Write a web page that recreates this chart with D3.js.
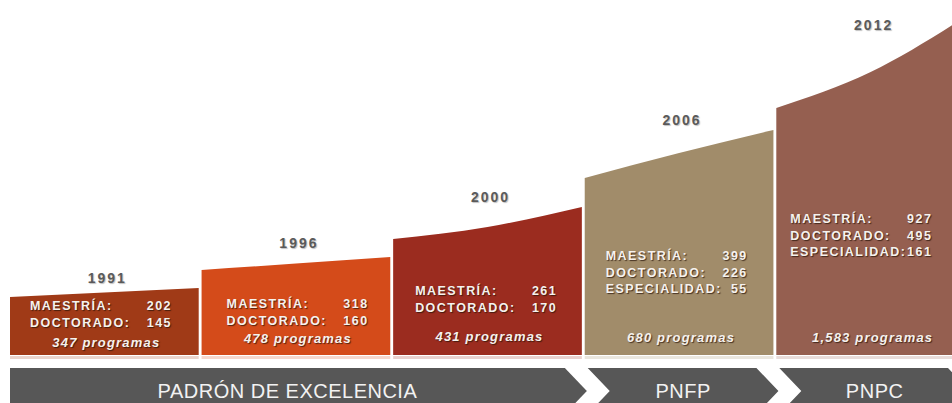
<!DOCTYPE html>
<html>
<head>
<meta charset="utf-8">
<script src="https://cdn.jsdelivr.net/npm/d3@7"></script>
<style>
  body { margin: 0; background: #fff; }
  svg { display: block; }
  .info { font-family: "Liberation Sans", Arial, sans-serif; font-weight: bold; font-size: 12.5px;
          letter-spacing: 1.45px; fill: #f6f2ee; text-shadow: 1px 1px 1px rgba(40,20,10,0.75); }
  .prog { font-style: italic; letter-spacing: 1.2px; font-size: 13px; }
  .year { font-family: "Liberation Sans", Arial, sans-serif; font-weight: bold; font-size: 14px;
          letter-spacing: 2px; fill: #5a5a5a; text-shadow: 1px 1px 1px rgba(0,0,0,0.25); }
  .phase { font-family: "Liberation Sans Narrow", "Liberation Sans", Arial, sans-serif; font-size: 20px;
           fill: #f2f2f2; letter-spacing: 0.5px; }
</style>
</head>
<body>
<svg id="chart"></svg>
<script>
// data
var years = ["1991", "1996", "2000", "2006", "2012"];
var maestria = [202, 318, 261, 399, 927];
var doctorado = [145, 160, 170, 226, 495];
var especialidad = [null, null, null, 55, 161];
var programas = [347, 478, 431, 680, 1583];
// block height (left edge, middle, right edge) on the growth scale
var heightStart = [58, 85, 116, 177, 247];
var heightMid = [62.5, 91.5, 128, 202, 283];
var heightEnd = [67, 98, 148, 225, 338];
var colors = ["#a03a17", "#d44b1a", "#9b2c1f", "#a18c6a", "#955f50"];
// programme phases, first and last block index
var phases = ["PADRÓN DE EXCELENCIA", "PNFP", "PNPC"];
var phaseFrom = [0, 3, 4];
var phaseTo = [2, 3, 4];

// layout
var width = 952, height = 403;
var baseY = 355;
var yearY = [283, 248, 202, 125, 30];       // baseline of year labels
var firstLineY = [310, 308, 295, 260, 223]; // baseline of first text line
var progY = [347, 343, 341, 342, 342];
var indent = [20, 25, 22, 21, 14];
var lineH = 16.5;

var svg = d3.select("#chart").attr("width", width).attr("height", height);

var x = d3.scaleBand()
  .domain(years)
  .range([10, 10 + 5 * 191])
  .paddingInner(0.015)
  .paddingOuter(0);

var y = d3.scaleLinear()
  .domain([0, 340])
  .range([baseY, baseY - 340]);

var area = d3.area()
  .x(function(d) { return d[0]; })
  .y0(baseY)
  .y1(function(d) { return y(d[1]); })
  .curve(d3.curveMonotoneX);

var fmt = d3.format(",");

years.forEach(function(yr, i) {
  var x0 = x(yr), bw = x.bandwidth();
  var pts = [[x0, heightStart[i]], [x0 + bw / 2, heightMid[i]], [x0 + bw, heightEnd[i]]];

  // faint reflection under block
  svg.append("rect")
    .attr("x", x0).attr("y", baseY + 1)
    .attr("width", bw).attr("height", 3)
    .attr("fill", colors[i]).attr("opacity", 0.22);

  svg.append("path")
    .attr("d", area(pts))
    .attr("fill", colors[i]);

  svg.append("text")
    .attr("class", "year")
    .attr("x", x0 + bw / 2 + 3)
    .attr("y", yearY[i])
    .attr("text-anchor", "middle")
    .text(yr);

  var rows = [["MAESTRÍA:", maestria[i]], ["DOCTORADO:", doctorado[i]]];
  if (especialidad[i] != null) rows.push(["ESPECIALIDAD:", especialidad[i]]);

  rows.forEach(function(r, j) {
    var ty = firstLineY[i] + j * lineH;
    svg.append("text").attr("class", "info")
      .attr("x", x0 + indent[i]).attr("y", ty)
      .text(r[0]);
    svg.append("text").attr("class", "info")
      .attr("x", x0 + indent[i] + 142).attr("y", ty)
      .attr("text-anchor", "end")
      .text(r[1]);
  });

  svg.append("text")
    .attr("class", "info prog")
    .attr("x", x0 + bw / 2 + 2)
    .attr("y", progY[i])
    .attr("text-anchor", "middle")
    .text(fmt(programas[i]) + " programas");
});

// phase arrows along the bottom
var barTop = 368, barBot = 414, barMid = (barTop + barBot) / 2, tip = 22;
phases.forEach(function(p, k) {
  var a = x(years[phaseFrom[k]]), b = x(years[phaseTo[k]]) + x.bandwidth();
  var left = k === 0 ? 10 : a + 3;
  var right = b - 17;
  var notch = k === 0 ? 0 : tip;
  var d = "M" + left + "," + barTop +
    "L" + right + "," + barTop +
    "L" + (right + tip) + "," + barMid +
    "L" + right + "," + barBot +
    "L" + left + "," + barBot +
    "L" + (left + notch) + "," + barMid + "Z";
  svg.append("path").attr("d", d).attr("fill", "#575757");
  svg.append("text")
    .attr("class", "phase")
    .attr("x", (left + notch + right) / 2)
    .attr("y", 398)
    .attr("text-anchor", "middle")
    .text(p);
});
</script>
</body>
</html>
